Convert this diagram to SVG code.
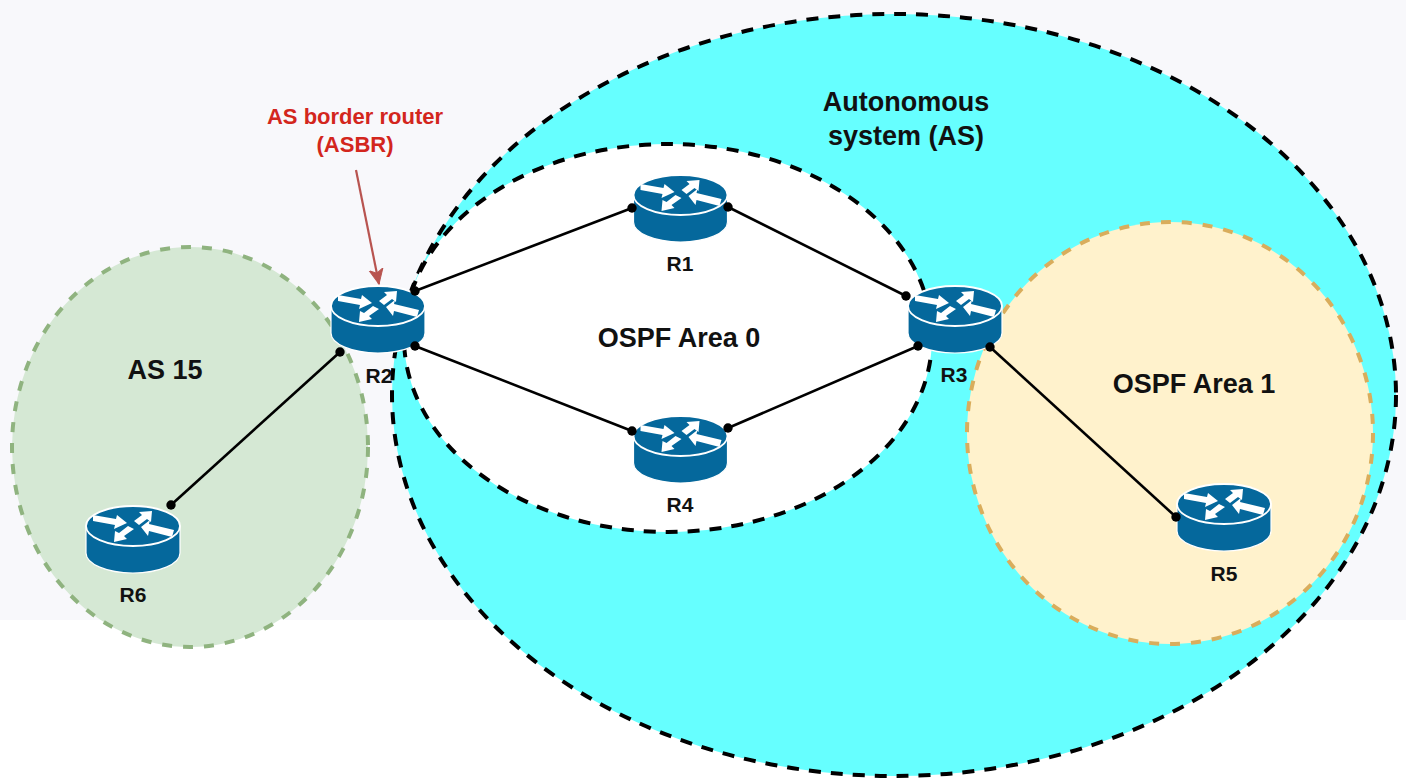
<svg xmlns="http://www.w3.org/2000/svg" width="1406" height="781" viewBox="0 0 1406 781">
<style>
.zone{stroke-dasharray:12 10;stroke-width:4}
.soft{stroke-dasharray:10 11;stroke-width:4}
.link{fill:none;stroke:#000;stroke-width:2.6;marker-start:url(#dot);marker-end:url(#dot)}
text{font-family:"Liberation Sans",Arial,sans-serif;font-weight:700;text-anchor:middle;fill:#111}
.big{font-size:27px}
.as15{font-size:27px}
.rl{font-size:21px}
.red{font-size:22px;fill:#d3261d}
</style>
<defs>
<marker id="dot" markerUnits="userSpaceOnUse" markerWidth="11" markerHeight="11" refX="5.5" refY="5.5"><circle cx="5.5" cy="5.5" r="4.7" fill="#000"/></marker>
<marker id="head" markerUnits="userSpaceOnUse" markerWidth="18" markerHeight="18" refX="15" refY="8" orient="auto"><path d="M0 1L15 8L0 15L4 8Z" fill="#b85450" stroke="#b85450"/></marker>
<g id="router">
<path d="M-47 0V27C-47 38-26 47 0 47S47 38 47 27V0Z" fill="#05689c" stroke="#fff" stroke-width="1.2"/>
<ellipse cx="0" cy="0" rx="47" ry="20" fill="#05689c" stroke="#fff" stroke-width="1.8"/>
<path fill="#fff" d="M-40-11L-17-7L-16-11L-6-3L-19 3L-18-1L-40-5Z"/>
<path fill="#fff" d="M41 4L16-2L17-6L8 1L15 10L16 5L39 11Z"/>
<path fill="#fff" d="M1-5L9-11L6-14L19-15L18-4L14-7L6-1Z"/>
<path fill="#fff" d="M1 3L-9 10L-6 13L-19 16L-18 5L-14 7L-5 0Z"/>
</g>
</defs>
<rect id="bg" x="0" y="0" width="1406" height="620" fill="#f8f8fb"/>
<rect x="0" y="620" width="1406" height="161" fill="#fff"/>
<g id="zones">
<ellipse id="as-zone" class="zone" cx="894" cy="395" rx="502" ry="381" fill="#66ffff" stroke="#000"/>
<ellipse id="area0-zone" class="zone" cx="668" cy="338" rx="264" ry="194" fill="#fff" stroke="#000"/>
<ellipse id="area1-zone" class="soft" cx="1170" cy="433" rx="203" ry="211" fill="#fff2cc" stroke="#d9ad5c"/>
<ellipse id="as15-zone" class="soft" cx="190" cy="447" rx="178" ry="200" fill="#d5e8d4" stroke="#8fb37f"/>
</g>
<g id="r1"><use href="#router" x="680.5" y="195"/><text class="rl" x="680" y="271">R1</text></g>
<g id="r2"><use href="#router" x="378" y="306"/><text class="rl" x="379" y="383">R2</text></g>
<g id="r3"><use href="#router" x="955" y="306"/><text class="rl" x="954" y="382">R3</text></g>
<g id="r4"><use href="#router" x="680.5" y="436"/><text class="rl" x="680" y="512">R4</text></g>
<g id="r5"><use href="#router" x="1224" y="504"/><text class="rl" x="1224" y="581">R5</text></g>
<g id="r6"><use href="#router" x="133" y="526"/><text class="rl" x="133" y="602">R6</text></g>
<g id="connectors">
<path class="link" d="M415 291L632 208"/>
<path class="link" d="M728 207L906 296"/>
<path class="link" d="M415 346L632 431"/>
<path class="link" d="M918 346L728 428"/>
<path class="link" d="M990 347L1176 517"/>
<path class="link" d="M340 352L171 505"/>
<path d="M356 170L379 284" fill="none" stroke="#b85450" stroke-width="2.2" marker-end="url(#head)"/>
</g>
<g id="labels">
<text class="big" x="906" y="111">Autonomous</text>
<text class="big" x="906" y="145">system (AS)</text>
<text class="big" x="679" y="347">OSPF Area 0</text>
<text class="big" x="1194" y="393">OSPF Area 1</text>
<text class="as15" x="165" y="379">AS 15</text>
<text class="red" x="355" y="124">AS border router</text>
<text class="red" x="355" y="152">(ASBR)</text>
</g>
</svg>
